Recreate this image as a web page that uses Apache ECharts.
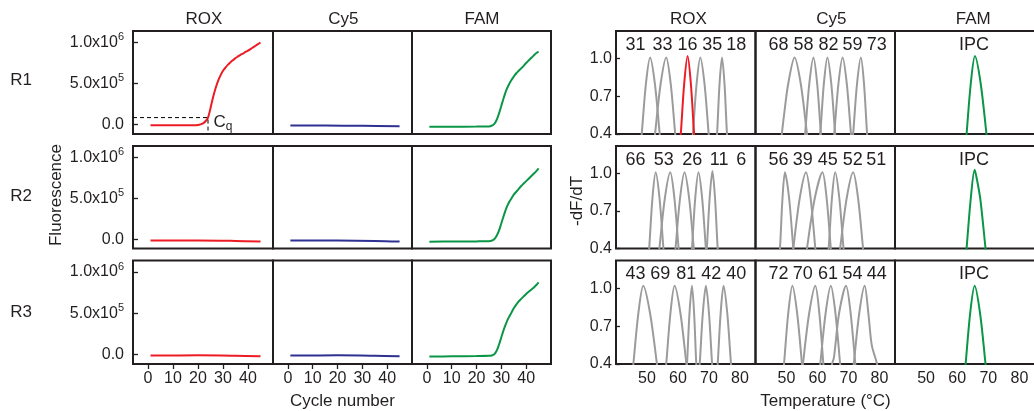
<!DOCTYPE html>
<html><head><meta charset="utf-8">
<script src="https://cdn.jsdelivr.net/npm/echarts@6/dist/echarts.min.js"></script>
<style>html,body{margin:0;padding:0;background:#fff}#c{width:1034px;height:411px}</style>
</head><body><div id="c"></div>
<script>
// ---------------- data ----------------
const channels = ['ROX', 'Cy5', 'FAM'];
const rowNames = ['R1', 'R2', 'R3'];
const cycleTicks = [0, 10, 20, 30, 40];
const fluorTicks = [0, 5e5, 1e6];
const tempTicks = [50, 60, 70, 80];
const dfdtTicks = [0.4, 0.7, 1.0];
const cycleRange = [-6, 50];
const fluorRange = [-1.15e5, 1.14e6];
const tempRange = [40, 85];
const dfdtRange = [0.4, 1.22];

// amplification curves [cycle, fluorescence]
const ampR1ROX = [[1,-8e3],[5,-9e3],[10,-9e3],[15,-9e3],[18,-8e3],[20,-5e3],[21,2e3],[22,1.5e4],[23,4.0e4],[24,8.5e4],[25,2.0e5],[26,3.3e5],[27,4.4e5],[28,5.3e5],[29,6.0e5],[30,6.55e5],[31,6.95e5],[32,7.3e5],[33,7.6e5],[34,7.85e5],[35,8.1e5],[36,8.3e5],[37,8.5e5],[38,8.65e5],[39,8.85e5],[40,9.0e5],[41,9.2e5],[42,9.4e5],[43,9.6e5],[44,9.8e5],[45,1.0e6]];
const ampR1Cy5 = [[1,-1.2e4],[15,-1.2e4],[30,-1.5e4],[45,-2.0e4]];
const ampR1FAM = [[1,-2.8e4],[10,-2.6e4],[20,-2.5e4],[25,-2.3e4],[26,-1.5e4],[27,3e3],[28,5.0e4],[29,1.3e5],[30,2.3e5],[31,3.3e5],[32,4.2e5],[33,4.85e5],[34,5.4e5],[35,5.85e5],[36,6.25e5],[37,6.55e5],[38,6.85e5],[39,7.15e5],[40,7.5e5],[41,7.8e5],[42,8.1e5],[43,8.4e5],[44,8.7e5],[45,8.9e5]];
const ampR2ROX = [[1,-1.7e4],[20,-1.6e4],[35,-2.2e4],[45,-3.0e4]];
const ampR2Cy5 = [[1,-1.8e4],[20,-1.8e4],[35,-2.2e4],[45,-3.0e4]];
const ampR2FAM = [[1,-3.2e4],[10,-3.0e4],[20,-2.8e4],[25,-2.5e4],[26,-2.0e4],[27,-5e3],[28,3.5e4],[29,1.0e5],[30,1.95e5],[31,2.9e5],[32,3.8e5],[33,4.45e5],[34,4.95e5],[35,5.45e5],[36,5.8e5],[37,6.15e5],[38,6.5e5],[39,6.8e5],[40,7.1e5],[41,7.4e5],[42,7.7e5],[43,8.0e5],[44,8.3e5],[45,8.65e5]];
const ampR3ROX = [[1,-1.2e4],[20,-1.0e4],[35,-1.5e4],[45,-2.2e4]];
const ampR3Cy5 = [[1,-1.2e4],[20,-1.0e4],[35,-1.5e4],[45,-2.2e4]];
const ampR3FAM = [[1,-2.4e4],[10,-2.2e4],[20,-1.9e4],[25,-1.6e4],[26,-1.2e4],[27,0],[28,4.0e4],[29,1.15e5],[30,2.1e5],[31,3.05e5],[32,3.85e5],[33,4.5e5],[34,5.05e5],[35,5.6e5],[36,6.05e5],[37,6.45e5],[38,6.75e5],[39,7.05e5],[40,7.35e5],[41,7.6e5],[42,7.85e5],[43,8.1e5],[44,8.4e5],[45,8.75e5]];
const cqCycle = 24;
const cqThreshold = 8.5e4;

// melt curves [temperature, -dF/dT]
const meltR1ROX = [
  [[47.9,.3],[48.3,.4],[49.65,.8],[51.0,1.01],[52.55,.8],[54.1,.4],[54.5,.3]],
  [[52.2,.3],[52.6,.4],[54.4,.8],[56.2,1.01],[57.65,.8],[59.1,.4],[59.5,.3]],
  [[60.5,.3],[60.9,.4],[62.0,.8],[63.1,1.02],[64.15,.8],[65.2,.4],[65.6,.3]],
  [[64.4,.3],[64.8,.4],[66.0,.8],[67.2,1.01],[68.55,.8],[69.9,.4],[70.3,.3]],
  [[72.2,.3],[72.6,.4],[73.4,.8],[74.2,1.01],[75.0,.8],[75.8,.4],[76.2,.3]]
];
const meltR1Cy5 = [
  [[48.1,.3],[48.5,.4],[49.2,.55],[50.55,.8],[52.6,1.01],[54.6,.8],[56.6,.4],[57.0,.3]],
  [[55.6,.3],[56.0,.4],[57.35,.8],[58.7,1.01],[59.9,.8],[61.1,.4],[61.5,.3]],
  [[60.5,.3],[60.9,.4],[62.05,.8],[63.2,1.01],[64.45,.8],[65.7,.4],[66.1,.3]],
  [[65.0,.3],[65.4,.4],[66.75,.8],[68.1,1.01],[69.45,.8],[70.8,.4],[71.2,.3]],
  [[71.1,.3],[71.5,.4],[72.75,.8],[74.0,1.01],[75.0,.8],[76.0,.4],[76.4,.3]]
];
const meltR1FAM = [[62.6,.3],[63.0,.4],[64.35,.8],[65.7,1.02],[67.55,.8],[69.4,.4],[69.8,.3]];
const meltR2ROX = [
  [[50.3,.3],[50.7,.4],[51.75,.8],[52.8,1.01],[54.05,.8],[55.3,.4],[55.7,.3]],
  [[53.6,.3],[54.0,.4],[55.75,.8],[57.5,1.01],[58.85,.8],[60.2,.4],[60.6,.3]],
  [[58.8,.3],[59.2,.4],[60.65,.8],[62.1,1.01],[63.6,.8],[65.1,.4],[65.5,.3]],
  [[64.1,.3],[64.5,.4],[65.55,.8],[66.6,1.01],[67.8,.8],[69.0,.4],[69.4,.3]],
  [[68.9,.3],[69.3,.4],[70.2,.8],[71.1,1.02],[71.95,.8],[72.8,.4],[73.2,.3]]
];
const meltR2Cy5 = [
  [[47.5,.3],[47.9,.4],[48.7,.8],[49.5,1.01],[50.85,.8],[52.2,.4],[52.6,.3]],
  [[51.8,.3],[52.2,.4],[54.25,.8],[56.3,1.01],[57.8,.8],[59.3,.4],[59.7,.3]],
  [[56.2,.3],[56.6,.4],[59.1,.8],[61.6,1.01],[62.95,.8],[64.3,.4],[64.7,.3]],
  [[63.2,.3],[63.6,.4],[64.65,.8],[65.7,1.01],[67.05,.8],[68.4,.4],[68.8,.3]],
  [[66.9,.3],[67.3,.4],[69.4,.8],[71.5,1.01],[73.1,.8],[74.7,.4],[75.1,.3]]
];
const meltR2FAM = [[62.6,.3],[63.0,.4],[64.35,.8],[65.6,1.03],[66.2,.97],[67.4,.8],[69.1,.4],[69.5,.3]];
const meltR3ROX = [
  [[45.2,.3],[45.6,.4],[47.2,.8],[48.8,1.02],[51.0,.8],[53.2,.4],[53.6,.3]],
  [[55.8,.3],[56.2,.4],[57.55,.8],[58.9,1.02],[60.8,.8],[62.7,.4],[63.1,.3]],
  [[62.5,.3],[62.9,.4],[63.7,.8],[64.5,1.02],[65.2,.8],[65.9,.4],[66.3,.3]],
  [[66.6,.3],[67.0,.4],[68.0,.8],[69.0,1.02],[70.0,.8],[71.0,.4],[71.4,.3]],
  [[72.4,.3],[72.8,.4],[73.75,.8],[74.7,1.02],[75.9,.8],[77.1,.4],[77.5,.3]]
];
const meltR3Cy5 = [
  [[48.8,.3],[49.2,.4],[50.55,.8],[51.9,1.02],[53.45,.8],[55.0,.4],[55.4,.3]],
  [[54.9,.3],[55.3,.4],[57.3,.8],[59.3,1.02],[60.6,.8],[61.9,.4],[62.3,.3]],
  [[60.5,.3],[60.9,.4],[62.6,.8],[64.3,1.02],[65.8,.8],[67.3,.4],[67.7,.3]],
  [[64.3,.3],[64.7,.4],[65.3,.45],[66.95,.8],[69.2,1.02],[70.7,.8],[72.2,.4],[72.6,.3]],
  [[71.3,.3],[71.7,.4],[73.45,.8],[75.2,1.02],[76.5,.78],[77.5,.55],[79.2,.4],[79.6,.3]]
];
const meltR3FAM = [[62.3,.3],[62.7,.4],[64.15,.8],[65.6,1.02],[67.35,.8],[69.1,.4],[69.5,.3]];
const highlightPeak = [[2], [], []]; // red-highlighted ROX peak per row

const roxPeakLabels = [[31,33,16,35,18],[66,53,26,11,6],[43,69,81,42,40]];
const cy5PeakLabels = [[68,58,82,59,73],[56,39,45,52,51],[72,70,61,54,44]];
const famPeakLabel = 'IPC';

// ---------------- layout / style ----------------
const FONT = '"Liberation Sans", Arial, Helvetica, sans-serif';
const INK = '#231f20';
const COLORS = { ROX: '#ed1c24', Cy5: '#2e3192', FAM: '#0a9646', gray: '#9b9b9b' };
const leftCols = [[133,273],[273,412],[412,551]];
const rightCols = [[616,755.5],[755.5,895],[895,1035]];
const rows = [[31,134],[146,248.5],[260.5,364]];
const roxLabelX = [[19.5,46.5,71.5,96.2,120.2],[19.5,47.8,76.2,103.2,125.2],[19.5,44.3,70.2,95.2,120.2]];
const cy5LabelX = [[23,48,73,97,121.2],[23,47.3,72.3,97.3,120.7],[23,47.3,72.5,97,121.2]];

const ampData = [[ampR1ROX, ampR1Cy5, ampR1FAM],[ampR2ROX, ampR2Cy5, ampR2FAM],[ampR3ROX, ampR3Cy5, ampR3FAM]];
const meltData = [[meltR1ROX, meltR1Cy5, [meltR1FAM]],[meltR2ROX, meltR2Cy5, [meltR2FAM]],[meltR3ROX, meltR3Cy5, [meltR3FAM]]];

const grids = [], xAxes = [], yAxes = [], series = [], graphics = [];

function addGrid(x0, x1, y0, y1) {
  grids.push({ left: x0, top: y0, width: x1 - x0, height: y1 - y0, show: true,
    borderColor: INK, borderWidth: 2, containLabel: false, outerBoundsMode: 'none' });
  return grids.length - 1;
}
function fmtFluor(v) {
  if (Math.abs(v) < 1) return '{n|0.0}';
  if (Math.abs(v - 5e5) < 1) return '{n|5.0x10}{s|5}';
  if (Math.abs(v - 1e6) < 1) return '{n|1.0x10}{s|6}';
  return '';
}
const labelBase = { color: INK, fontFamily: FONT, fontSize: 16 };
const tickStyle = { color: INK, width: 1.3 };

// left amplification panels
for (let r = 0; r < 3; r++) {
  for (let c = 0; c < 3; c++) {
    const g = addGrid(leftCols[c][0], leftCols[c][1], rows[r][0], rows[r][1]);
    xAxes.push({ gridIndex: g, type: 'value', min: cycleRange[0], max: cycleRange[1], position: 'bottom',
      axisLine: { show: false, onZero: false }, splitLine: { show: false },
      axisTick: { show: r === 2, customValues: cycleTicks, length: 5, lineStyle: tickStyle },
      axisLabel: Object.assign({ show: r === 2, customValues: cycleTicks, margin: 7 }, labelBase) });
    yAxes.push({ gridIndex: g, type: 'value', min: fluorRange[0], max: fluorRange[1], position: 'left',
      axisLine: { show: false, onZero: false }, splitLine: { show: false },
      axisTick: { show: c === 0, inside: true, customValues: fluorTicks, length: 5, lineStyle: tickStyle },
      axisLabel: { show: c === 0, customValues: fluorTicks, margin: 9, formatter: fmtFluor,
        rich: { n: Object.assign({}, labelBase), s: { color: INK, fontFamily: FONT, fontSize: 11, padding: [0, 0, 11, 0] } } } });
    series.push({ type: 'line', xAxisIndex: g, yAxisIndex: g, data: ampData[r][c], showSymbol: false, smooth: 0.35,
      lineStyle: { color: COLORS[channels[c]], width: 2 }, silent: true, clip: true });
    if (r === 0 && c === 0) {
      series.push({ type: 'line', xAxisIndex: g, yAxisIndex: g, showSymbol: false, silent: true,
        data: [[cycleRange[0], cqThreshold], [cqCycle, cqThreshold], [cqCycle, fluorRange[0]]],
        lineStyle: { color: '#000', width: 1, type: [4, 3] } });
      series.push({ type: 'scatter', xAxisIndex: g, yAxisIndex: g, silent: true, symbolSize: 1,
        itemStyle: { color: 'rgba(0,0,0,0)' }, data: [[cqCycle, cqThreshold]],
        label: { show: true, position: 'right', distance: 5, offset: [0, 5], formatter: '{c|C}{q|q}', color: INK, opacity: 1,
          rich: { c: { color: INK, fontFamily: FONT, fontSize: 17 }, q: { color: INK, fontFamily: FONT, fontSize: 12, padding: [9, 0, 0, 0] } } } });
    }
  }
}

// right melt panels
for (let r = 0; r < 3; r++) {
  for (let c = 0; c < 3; c++) {
    const g = addGrid(rightCols[c][0], rightCols[c][1], rows[r][0], rows[r][1]);
    xAxes.push({ gridIndex: g, type: 'value', min: tempRange[0], max: tempRange[1], position: 'bottom',
      axisLine: { show: false, onZero: false }, splitLine: { show: false },
      axisTick: { show: false, customValues: tempTicks },
      axisLabel: Object.assign({ show: r === 2, customValues: tempTicks, margin: 7 }, labelBase) });
    yAxes.push({ gridIndex: g, type: 'value', min: dfdtRange[0], max: dfdtRange[1], position: 'left',
      axisLine: { show: false, onZero: false }, splitLine: { show: false },
      axisTick: { show: c === 0, inside: true, customValues: dfdtTicks, length: 4, lineStyle: tickStyle },
      axisLabel: Object.assign({ show: c === 0, customValues: dfdtTicks, margin: 4, formatter: v => v.toFixed(1) }, labelBase) });
    const peaks = meltData[r][c];
    peaks.forEach((pk, i) => {
      let col = COLORS.gray, z = 2;
      if (c === 2) col = COLORS.FAM;
      if (c === 0 && highlightPeak[r].includes(i)) { col = COLORS.ROX; z = 3; }
      series.push({ type: 'line', xAxisIndex: g, yAxisIndex: g, data: pk, showSymbol: false, smooth: 0.3, z: z,
        lineStyle: { color: col, width: 2 }, silent: true, clip: true });
    });
    // peak labels
    const top = rows[r][0] + 14;
    if (c === 0 || c === 1) {
      const labs = c === 0 ? roxPeakLabels[r] : cy5PeakLabels[r];
      const xs = c === 0 ? roxLabelX[r] : cy5LabelX[r];
      labs.forEach((t, i) => graphics.push({ type: 'text', x: rightCols[c][0] + xs[i], y: top, z: 10,
        style: { text: String(t), align: 'center', verticalAlign: 'middle', fill: INK, font: '18px ' + FONT } }));
    } else {
      graphics.push({ type: 'text', x: rightCols[c][0] + 79, y: top, z: 10,
        style: { text: famPeakLabel, align: 'center', verticalAlign: 'middle', fill: INK, font: '18px ' + FONT } });
    }
  }
}

// titles, row labels, axis names
const leftTitleX = [204, 343.3, 482];
const rightTitleX = [688.3, 831.3, 973.3];
channels.forEach((ch, i) => {
  graphics.push({ type: 'text', x: leftTitleX[i], y: 19, style: { text: ch, align: 'center', verticalAlign: 'middle', fill: INK, font: '17px ' + FONT } });
  graphics.push({ type: 'text', x: rightTitleX[i], y: 19, style: { text: ch, align: 'center', verticalAlign: 'middle', fill: INK, font: '17px ' + FONT } });
});
const rowLabelY = [80, 196, 312];
rowNames.forEach((nm, i) => graphics.push({ type: 'text', x: 21, y: rowLabelY[i],
  style: { text: nm, align: 'center', verticalAlign: 'middle', fill: INK, font: '17px ' + FONT } }));
graphics.push({ type: 'text', x: 56, y: 195, rotation: Math.PI / 2,
  style: { text: 'Fluorescence', align: 'center', verticalAlign: 'middle', fill: INK, font: '17px ' + FONT } });
graphics.push({ type: 'text', x: 577.5, y: 201, rotation: Math.PI / 2,
  style: { text: '-dF/dT', align: 'center', verticalAlign: 'middle', fill: INK, font: '17px ' + FONT } });
graphics.push({ type: 'text', x: 342.5, y: 401, style: { text: 'Cycle number', align: 'center', verticalAlign: 'middle', fill: INK, font: '17px ' + FONT } });
graphics.push({ type: 'text', x: 825.5, y: 401, style: { text: 'Temperature (°C)', align: 'center', verticalAlign: 'middle', fill: INK, font: '17px ' + FONT } });

const chart = echarts.init(document.getElementById('c'), null, { renderer: 'canvas' });
chart.setOption({
  animation: false,
  backgroundColor: '#fff',
  grid: grids, xAxis: xAxes, yAxis: yAxes, series: series,
  graphic: { elements: graphics }
});
</script></body></html>
